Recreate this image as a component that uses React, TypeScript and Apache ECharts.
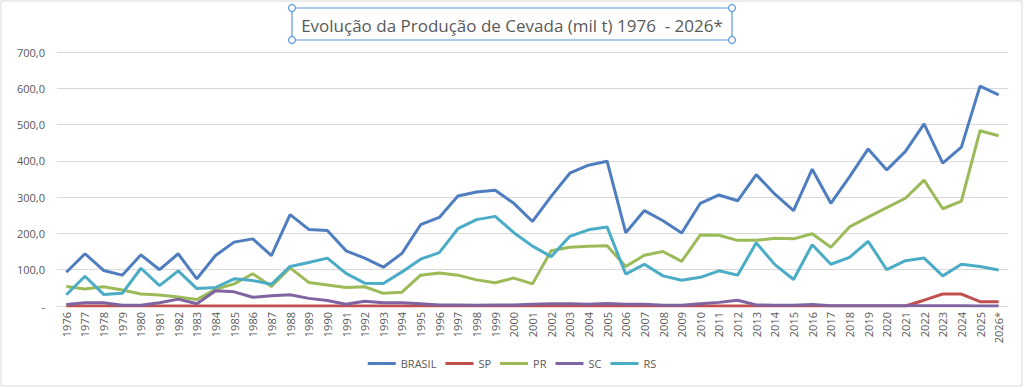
import React, { useEffect, useRef } from "react";
import * as echarts from "echarts";

const years: string[] = [
  "1976","1977","1978","1979","1980","1981","1982","1983","1984","1985",
  "1986","1987","1988","1989","1990","1991","1992","1993","1994","1995",
  "1996","1997","1998","1999","2000","2001","2002","2003","2004","2005",
  "2006","2007","2008","2009","2010","2011","2012","2013","2014","2015",
  "2016","2017","2018","2019","2020","2021","2022","2023","2024","2025","2026*",
];

const brasil: number[] = [
  93,144,98,85,141,100,144,75,139,176,
  185,139,252,211,208,152,132,107,145,224,
  244,303,314,319,283,233,302,366,388,399,
  202,263,235,201,283,306,290,362,308,263,
  377,283,356,433,375,426,502,394,438,606,582,
];

const sp: number[] = [
  0,0,0,0,0,0,0,0,0,0,
  0,0,0,0,0,0,0,0,0,0,
  0,0,0,0,0,0,0,0,0,0,
  0,0,0,0,0,0,0,0,0,0,
  0,0,0,0,0,0,16,33,33,12,12,
];

const pr: number[] = [
  54,47,53,44,33,30,25,18,46,61,
  89,54,105,65,58,51,53,35,38,85,
  91,85,72,64,77,61,152,162,165,166,
  109,140,150,123,196,195,181,181,187,185,
  199,162,218,245,271,297,347,268,289,483,469,
];

const sc: number[] = [
  4,9,9,2,2,9,19,6,42,39,
  24,28,31,21,15,5,13,9,9,6,
  3,3,2,3,3,5,6,6,5,7,
  5,5,2,2,6,10,16,3,2,2,
  4,1,1,1,1,1,1,1,1,0,0,
];

const rs: number[] = [
  31,82,32,35,104,56,97,48,51,75,
  70,60,109,120,132,90,63,62,94,129,
  147,213,238,247,202,165,136,192,210,218,
  88,115,83,71,79,97,85,174,114,73,
  169,115,134,178,100,125,132,83,115,109,99,
];

const seriesNames = ["BRASIL", "SP", "PR", "SC", "RS"];
const seriesData = [brasil, sp, pr, sc, rs];
const colors = ["#4F7EC0", "#C0504D", "#9BBB59", "#8064A2", "#4BACC6"];

const titleText = "Evolução da Produção de Cevada (mil t) 1976  - 2026*";

export default function App() {
  const ref = useRef<HTMLDivElement>(null);

  useEffect(() => {
    if (!ref.current) return;
    const chart = echarts.init(ref.current, undefined, { renderer: "svg" });
    const font = "'Open Sans', 'Noto Sans', sans-serif";
    const handle = (x: number, y: number) => ({
      type: "circle",
      shape: { cx: x, cy: y, r: 3.5 },
      style: { fill: "#ffffff", stroke: "#5B9BD5", lineWidth: 1.2 },
      z: 10,
    });
    chart.setOption({
      animation: false,
      backgroundColor: "#ffffff",
      color: colors,
      title: {
        text: titleText,
        left: "center",
        top: 12,
        textStyle: {
          fontFamily: font,
          fontSize: 17,
          fontWeight: "normal",
          color: "#595959",
        },
      },
      graphic: [
        {
          type: "rect",
          shape: { x: 1, y: 1, width: 1021, height: 385 },
          style: { fill: "none", stroke: "#D9D9D9", lineWidth: 1 },
          z: 0,
        },
        {
          type: "rect",
          shape: { x: 292, y: 8, width: 440, height: 32 },
          style: { fill: "none", stroke: "#5B9BD5", lineWidth: 1.2 },
          z: 9,
        },
        handle(292, 8),
        handle(732, 8),
        handle(292, 40),
        handle(732, 40),
      ],
      legend: {
        bottom: 14,
        left: "center",
        icon: "rect",
        itemWidth: 28,
        itemHeight: 3,
        itemGap: 9,
        textStyle: { fontFamily: font, fontSize: 11, color: "#595959" },
        data: seriesNames,
      },
      grid: { left: 57, right: 16, top: 52, bottom: 82, containLabel: false },
      xAxis: {
        type: "category",
        data: years,
        boundaryGap: true,
        axisLine: { show: true, lineStyle: { color: "#D9D9D9" } },
        axisTick: { show: false },
        axisLabel: {
          interval: 0,
          rotate: 90,
          fontFamily: font,
          fontSize: 11,
          color: "#595959",
          margin: 6,
        },
      },
      yAxis: {
        type: "value",
        min: 0,
        max: 700,
        interval: 100,
        axisLine: { show: false },
        axisTick: { show: false },
        splitLine: { lineStyle: { color: "#D9D9D9", width: 1 } },
        axisLabel: {
          fontFamily: font,
          fontSize: 11,
          color: "#595959",
          margin: 12,
          formatter: (v: number) => (v === 0 ? "-" : v.toFixed(1).replace(".", ",")),
        },
      },
      series: seriesNames.map((name, i) => ({
        name,
        type: "line",
        data: seriesData[i],
        showSymbol: false,
        symbol: "none",
        smooth: false,
        lineStyle: { width: 3, color: colors[i] },
        itemStyle: { color: colors[i] },
      })),
    });
    return () => chart.dispose();
  }, []);

  return (
    <div
      ref={ref}
      style={{ position: "fixed", left: 0, top: 0, width: 1024, height: 388 }}
    />
  );
}
